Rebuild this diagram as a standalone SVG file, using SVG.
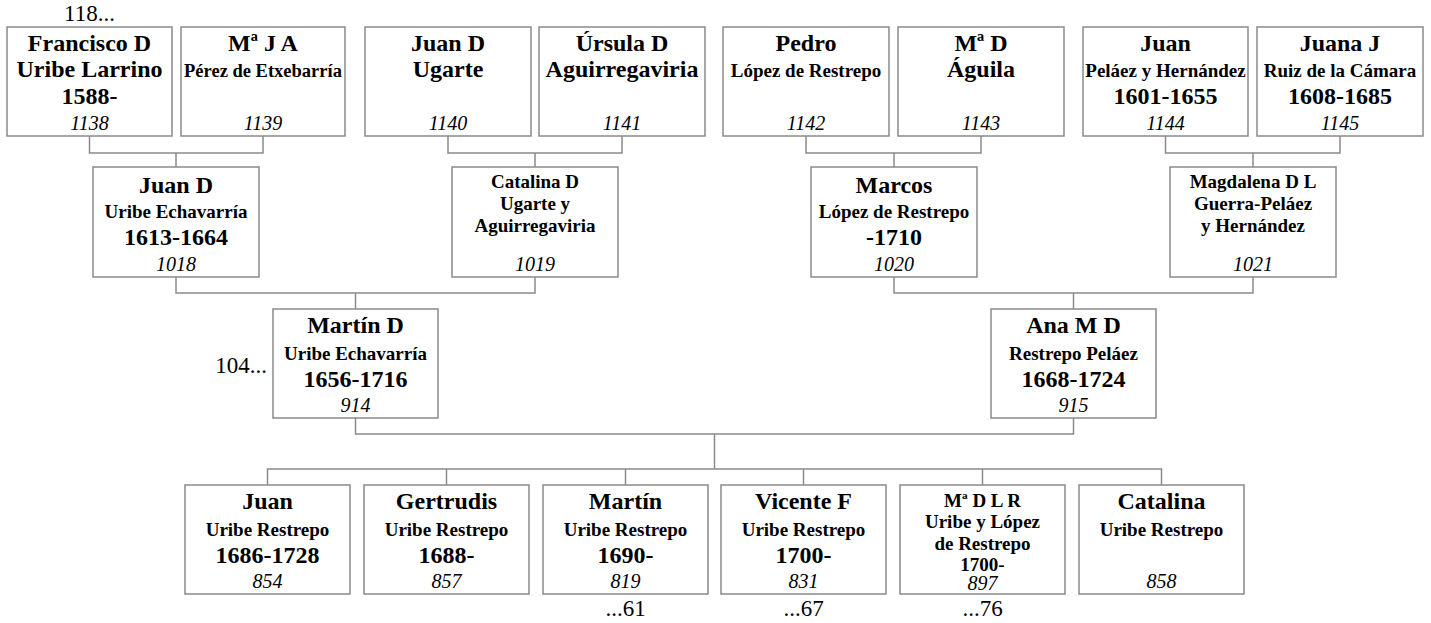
<svg xmlns="http://www.w3.org/2000/svg" width="1431" height="623" viewBox="0 0 1431 623">
<style>
.box{fill:#fff;stroke:#8a8a8a;stroke-width:1.5}
.c{fill:none;stroke:#8a8a8a;stroke-width:1.5}
text{font-family:"Liberation Serif","Times New Roman",serif;fill:#000;text-anchor:middle}
.n{font-size:24px;font-weight:bold}
.s{font-size:19px;font-weight:bold}
.s18{font-size:18.5px;font-weight:bold}
.i{font-size:20px;font-style:italic}
.l{font-size:23px}
</style>
<rect width="1431" height="623" fill="#fff"/>
<g id="connectors" class="c">
<path d="M89.5 136V153H263V136M176 153V167"/>
<path d="M448 136V153H622V136M535 153V167"/>
<path d="M806 136V153H981V136M894 153V167"/>
<path d="M1165.5 136V153H1340V136M1253 153V167"/>
<path d="M176 277V293H535V277M355.5 293V309"/>
<path d="M894 277V293H1253V277M1073.5 293V309"/>
<path d="M355.5 418V434H1073.5V418M714.5 434V469"/>
<path d="M267.5 485V469H1161.5V485M446.5 469V485M625.5 469V485M803.5 469V485M982.5 469V485"/>
</g>
<g id="n1138"><rect class="box" x="7" y="27" width="165" height="109"/>
<text class="n" x="89.5" y="50.7">Francisco D</text><text class="n" x="89.5" y="77.3">Uribe Larrino</text><text class="n" x="89.5" y="104">1588-</text><text class="i" x="89.5" y="130">1138</text></g>
<g id="n1139"><rect class="box" x="181" y="27" width="164" height="109"/>
<text class="n" x="263" y="50.7">Mª J A</text><text class="s18" x="263" y="77">Pérez de Etxebarría</text><text class="i" x="263" y="130">1139</text></g>
<g id="n1140"><rect class="box" x="365" y="27" width="166" height="109"/>
<text class="n" x="448" y="50.7">Juan D</text><text class="n" x="448" y="77.3">Ugarte</text><text class="i" x="448" y="130">1140</text></g>
<g id="n1141"><rect class="box" x="539" y="27" width="166" height="109"/>
<text class="n" x="622" y="50.7">Úrsula D</text><text class="n" x="622" y="77.3">Aguirregaviria</text><text class="i" x="622" y="130">1141</text></g>
<g id="n1142"><rect class="box" x="723" y="27" width="166" height="109"/>
<text class="n" x="806" y="50.7">Pedro</text><text class="s" x="806" y="77">López de Restrepo</text><text class="i" x="806" y="130">1142</text></g>
<g id="n1143"><rect class="box" x="898" y="27" width="166" height="109"/>
<text class="n" x="981" y="50.7">Mª D</text><text class="n" x="981" y="77.3">Águila</text><text class="i" x="981" y="130">1143</text></g>
<g id="n1144"><rect class="box" x="1083" y="27" width="165" height="109"/>
<text class="n" x="1165.5" y="50.7">Juan</text><text class="s" x="1165.5" y="77">Peláez y Hernández</text><text class="n" x="1165.5" y="104">1601-1655</text><text class="i" x="1165.5" y="130">1144</text></g>
<g id="n1145"><rect class="box" x="1257" y="27" width="166" height="109"/>
<text class="n" x="1340" y="50.7">Juana J</text><text class="s" x="1340" y="77">Ruiz de la Cámara</text><text class="n" x="1340" y="104">1608-1685</text><text class="i" x="1340" y="130">1145</text></g>
<g id="n1018"><rect class="box" x="93" y="167" width="166" height="110"/>
<text class="n" x="176" y="192.7">Juan D</text><text class="s" x="176" y="218.3">Uribe Echavarría</text><text class="n" x="176" y="245">1613-1664</text><text class="i" x="176" y="270.7">1018</text></g>
<g id="n1019"><rect class="box" x="452" y="167" width="166" height="110"/>
<text class="s" x="535" y="188">Catalina D</text><text class="s" x="535" y="210">Ugarte y</text><text class="s" x="535" y="232">Aguirregaviria</text><text class="i" x="535" y="271">1019</text></g>
<g id="n1020"><rect class="box" x="811" y="167" width="166" height="110"/>
<text class="n" x="894" y="192.7">Marcos</text><text class="s" x="894" y="218.3">López de Restrepo</text><text class="n" x="894" y="245">-1710</text><text class="i" x="894" y="270.7">1020</text></g>
<g id="n1021"><rect class="box" x="1170" y="167" width="166" height="110"/>
<text class="s" x="1253" y="188">Magdalena D L</text><text class="s" x="1253" y="210">Guerra-Peláez</text><text class="s" x="1253" y="232">y Hernández</text><text class="i" x="1253" y="271">1021</text></g>
<g id="n914"><rect class="box" x="273" y="309" width="165" height="109"/>
<text class="n" x="355.5" y="332.7">Martín D</text><text class="s" x="355.5" y="360">Uribe Echavarría</text><text class="n" x="355.5" y="386.7">1656-1716</text><text class="i" x="355.5" y="411.7">914</text></g>
<g id="n915"><rect class="box" x="991" y="309" width="165" height="109"/>
<text class="n" x="1073.5" y="332.7">Ana M D</text><text class="s" x="1073.5" y="360">Restrepo Peláez</text><text class="n" x="1073.5" y="386.7">1668-1724</text><text class="i" x="1073.5" y="411.7">915</text></g>
<g id="n854"><rect class="box" x="185" y="485" width="165" height="109"/>
<text class="n" x="267.5" y="509.3">Juan</text><text class="s" x="267.5" y="536">Uribe Restrepo</text><text class="n" x="267.5" y="562.7">1686-1728</text><text class="i" x="267.5" y="587.7">854</text></g>
<g id="n857"><rect class="box" x="364" y="485" width="165" height="109"/>
<text class="n" x="446.5" y="509.3">Gertrudis</text><text class="s" x="446.5" y="536">Uribe Restrepo</text><text class="n" x="446.5" y="562.7">1688-</text><text class="i" x="446.5" y="587.7">857</text></g>
<g id="n819"><rect class="box" x="543" y="485" width="165" height="109"/>
<text class="n" x="625.5" y="509.3">Martín</text><text class="s" x="625.5" y="536">Uribe Restrepo</text><text class="n" x="625.5" y="562.7">1690-</text><text class="i" x="625.5" y="587.7">819</text></g>
<g id="n831"><rect class="box" x="721" y="485" width="165" height="109"/>
<text class="n" x="803.5" y="509.3">Vicente F</text><text class="s" x="803.5" y="536">Uribe Restrepo</text><text class="n" x="803.5" y="562.7">1700-</text><text class="i" x="803.5" y="587.7">831</text></g>
<g id="n897"><rect class="box" x="900" y="485" width="165" height="109"/>
<text class="s" x="982.5" y="506.7">Mª D L R</text><text class="s" x="982.5" y="528.3">Uribe y López</text><text class="s" x="982.5" y="550">de Restrepo</text><text class="s" x="982.5" y="570.7">1700-</text><text class="i" x="982.5" y="590">897</text></g>
<g id="n858"><rect class="box" x="1079" y="485" width="165" height="109"/>
<text class="n" x="1161.5" y="509.3">Catalina</text><text class="s" x="1161.5" y="536">Uribe Restrepo</text><text class="i" x="1161.5" y="587.7">858</text></g>
<g id="labels">
<text class="l" x="89.5" y="20.5">118...</text>
<text class="l" x="267" y="373" style="text-anchor:end">104...</text>
<text class="l" x="625.5" y="616">...61</text>
<text class="l" x="803.5" y="616">...67</text>
<text class="l" x="982.5" y="616">...76</text>
</g>
</svg>
